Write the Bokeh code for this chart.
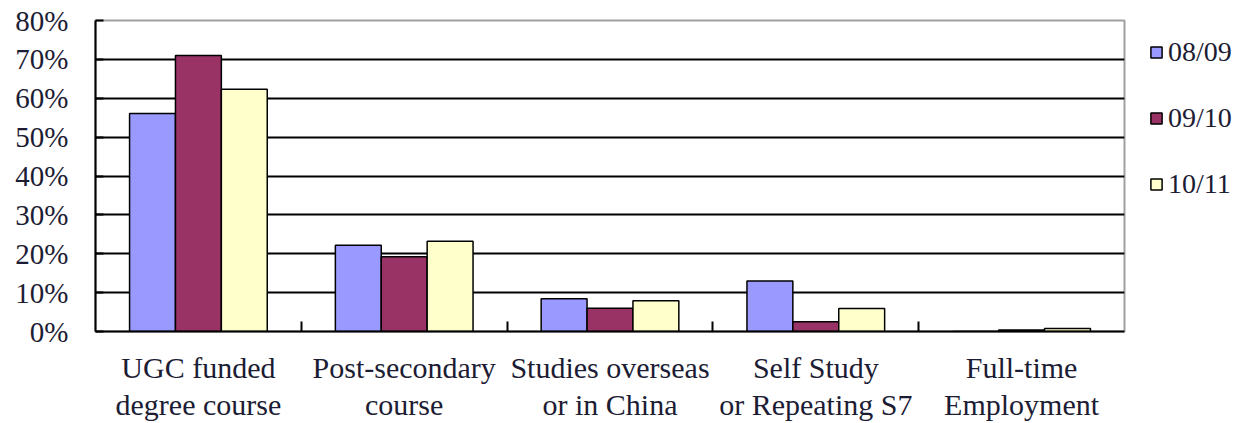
from bokeh.plotting import figure
from bokeh.models import (Range1d, FixedTicker, NumeralTickFormatter, Legend,
                          LegendItem, ColumnDataSource)
from bokeh.embed import file_html
from bokeh.resources import INLINE

# Destinations of school leavers, share by school year
categories = ["UGC funded\ndegree course", "Post-secondary\ncourse",
              "Studies overseas\nor in China", "Self Study\nor Repeating S7",
              "Full-time\nEmployment"]
years = ["08/09", "09/10", "10/11"]
share_0809 = [0.561, 0.222, 0.084, 0.130, 0.0]
share_0910 = [0.710, 0.192, 0.060, 0.025, 0.004]
share_1011 = [0.623, 0.232, 0.079, 0.059, 0.008]
colors = ["#9999FF", "#993366", "#FFFFCC"]
y_ticks = [0, 0.1, 0.2, 0.3, 0.4, 0.5, 0.6, 0.7, 0.8]

series = [share_0809, share_0910, share_1011]
centers = [i + 0.5 for i in range(len(categories))]
bar_w = 0.223
offsets = [-bar_w, 0.0, bar_w]

FONT = "Liberation Serif"
TXT = "#1c1c34"

p = figure(frame_width=1029, frame_height=311, output_backend="svg",
           toolbar_location=None,
           x_range=Range1d(0, len(categories)), y_range=Range1d(0, 0.8),
           min_border_left=95, min_border_right=0, min_border_top=20,
           min_border_bottom=92)
p.background_fill_color = "white"
p.border_fill_color = "white"
p.outline_line_color = "#a0a0a0"
p.outline_line_width = 2

renderers = []
for vals, col, off in zip(series, colors, offsets):
    src = ColumnDataSource(dict(x=[c + off for c in centers], top=vals))
    r = p.vbar(x="x", top="top", width=bar_w, bottom=0, source=src,
               fill_color=col, line_color="black", line_width=1.5)
    renderers.append(r)

# x axis: labels at category centres, small marks at category boundaries
p.xaxis.ticker = FixedTicker(ticks=centers,
                             minor_ticks=list(range(1, len(categories))))
p.xaxis.major_label_overrides = {c: lab for c, lab in zip(centers, categories)}
p.xaxis.major_tick_line_color = None
p.xaxis.minor_tick_in = 10
p.xaxis.minor_tick_out = 0
p.xaxis.minor_tick_line_color = "black"
p.xaxis.minor_tick_line_width = 2
p.xaxis.axis_line_color = "black"
p.xaxis.axis_line_width = 2
p.xaxis.major_label_text_font = FONT
p.xaxis.major_label_text_font_size = "30px"
p.xaxis.major_label_text_color = TXT
p.xaxis.major_label_text_line_height = 1.13
p.xaxis.major_label_standoff = 13

# y axis in percent
p.yaxis.ticker = FixedTicker(ticks=y_ticks)
p.yaxis.formatter = NumeralTickFormatter(format="0%")
p.yaxis.major_tick_in = 8
p.yaxis.major_tick_out = 0
p.yaxis.major_tick_line_width = 2
p.yaxis.minor_tick_line_color = None
p.yaxis.axis_line_color = "black"
p.yaxis.axis_line_width = 2
p.yaxis.major_label_text_font = FONT
p.yaxis.major_label_text_font_size = "29px"
p.yaxis.major_label_text_color = TXT
p.yaxis.major_label_standoff = 27

p.xgrid.grid_line_color = None
p.ygrid.ticker = FixedTicker(ticks=y_ticks[1:-1])
p.ygrid.grid_line_color = "black"
p.ygrid.grid_line_width = 2

# legend in the right-hand panel
legend = Legend(items=[LegendItem(label=y, renderers=[r])
                       for y, r in zip(years, renderers)],
                location=(25, 131.5), orientation="vertical")
legend.label_text_font = FONT
legend.label_text_font_size = "28px"
legend.label_text_color = TXT
legend.glyph_width = 14
legend.glyph_height = 14
legend.label_height = 30
legend.label_standoff = 5
legend.spacing = 34
legend.padding = 0
legend.margin = 0
legend.border_line_color = None
legend.background_fill_alpha = 0
p.add_layout(legend, "right")

open("out.html", "w").write(file_html(p, INLINE))
